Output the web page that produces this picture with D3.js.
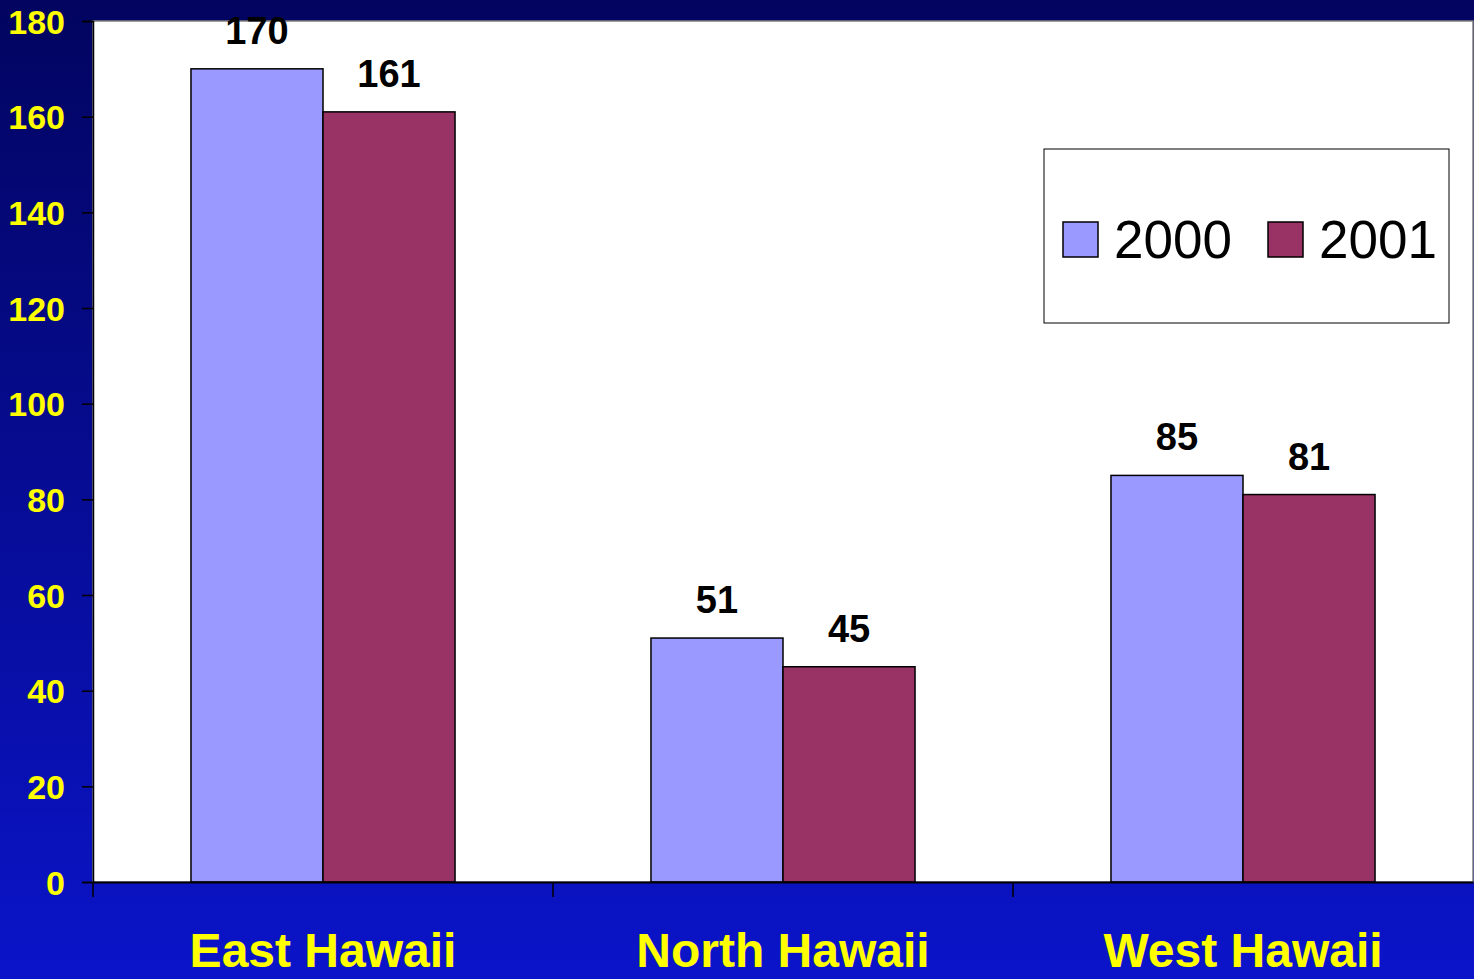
<!DOCTYPE html>
<html>
<head>
<meta charset="utf-8">
<script src="https://cdn.jsdelivr.net/npm/d3@7"></script>
<style>
  html, body { margin: 0; padding: 0; overflow: hidden; }
  svg { display: block; }
</style>
</head>
<body>
<div id="chart"></div>
<script>
var regions = ['East Hawaii', 'North Hawaii', 'West Hawaii'];
var years = ['2000', '2001'];
var values2000 = [170, 51, 85];
var values2001 = [161, 45, 81];
var yTicks = [0, 20, 40, 60, 80, 100, 120, 140, 160, 180];

var width = 1474, height = 979;
var margin = { top: 21, right: 1, bottom: 97, left: 93 };
var colors = { '2000': '#9999FF', '2001': '#993366' };

var svg = d3.select('#chart').append('svg')
	.attr('width', width)
	.attr('height', height);

// background gradient
var grad = svg.append('defs').append('linearGradient')
	.attr('id', 'bg')
	.attr('x1', 0).attr('y1', 0).attr('x2', 0).attr('y2', 1);
grad.append('stop').attr('offset', '0%').attr('stop-color', '#02045f');
grad.append('stop').attr('offset', '100%').attr('stop-color', '#0b14c9');
svg.append('rect')
	.attr('width', width).attr('height', height)
	.attr('fill', 'url(#bg)');

var x = d3.scaleBand()
	.domain(regions)
	.range([margin.left, width - margin.right]);
var inner = d3.scaleBand()
	.domain(years)
	.range([0, x.bandwidth()])
	.paddingOuter(0.742);
var y = d3.scaleLinear()
	.domain([0, 180])
	.range([height - margin.bottom, margin.top]);

// plot area
svg.append('rect')
	.attr('x', margin.left)
	.attr('y', y(180))
	.attr('width', width - margin.right - margin.left)
	.attr('height', y(0) - y(180))
	.attr('fill', '#ffffff')
	.attr('stroke', '#808080')
	.attr('stroke-width', 1.5);

var data = [];
regions.forEach(function(r, i) {
	data.push({ region: r, year: '2000', value: values2000[i] });
	data.push({ region: r, year: '2001', value: values2001[i] });
});

// bars
svg.append('g').selectAll('rect')
	.data(data)
	.enter().append('rect')
	.attr('x', function(d) { return x(d.region) + inner(d.year); })
	.attr('y', function(d) { return y(d.value); })
	.attr('width', inner.bandwidth())
	.attr('height', function(d) { return y(0) - y(d.value); })
	.attr('fill', function(d) { return colors[d.year]; })
	.attr('stroke', '#000')
	.attr('stroke-width', 1.5);

// value labels
svg.append('g').selectAll('text')
	.data(data)
	.enter().append('text')
	.attr('x', function(d) { return x(d.region) + inner(d.year) + inner.bandwidth() / 2; })
	.attr('y', function(d) { return y(d.value) - 25; })
	.attr('text-anchor', 'middle')
	.attr('font-family', 'Liberation Sans, Arial, sans-serif')
	.attr('font-weight', 'bold')
	.attr('font-size', 38)
	.attr('fill', '#000')
	.text(function(d) { return d.value; });

// y axis
var yAxis = svg.append('g')
	.attr('transform', 'translate(' + margin.left + ',0)')
	.call(d3.axisLeft(y).tickValues(yTicks).tickSize(11).tickPadding(17));
yAxis.select('.domain').attr('stroke', '#000').attr('stroke-width', 1.5);
yAxis.selectAll('.tick line').attr('stroke', '#000').attr('stroke-width', 1.5);
yAxis.selectAll('.tick text')
	.attr('fill', '#FFFF00')
	.attr('font-family', 'Liberation Sans, Arial, sans-serif')
	.attr('font-weight', 'bold')
	.attr('font-size', 34)
	.attr('dy', '0.36em');

// x axis
var xAxis = svg.append('g')
	.attr('transform', 'translate(0,' + y(0) + ')')
	.call(d3.axisBottom(x).tickSize(0).tickSizeOuter(0).tickPadding(0));
xAxis.select('.domain').attr('stroke', '#000').attr('stroke-width', 2);
xAxis.selectAll('.tick text')
	.attr('fill', '#FFFF00')
	.attr('font-family', 'Liberation Sans, Arial, sans-serif')
	.attr('font-weight', 'bold')
	.attr('font-size', 48)
	.attr('dy', 0)
	.attr('y', 85);
// category separator ticks
xAxis.selectAll('.sep')
	.data(regions)
	.enter().append('line')
	.attr('class', 'sep')
	.attr('x1', function(d) { return x(d); })
	.attr('x2', function(d) { return x(d); })
	.attr('y1', 0)
	.attr('y2', 15)
	.attr('stroke', '#000')
	.attr('stroke-width', 1.5);

// legend
var legend = svg.append('g').attr('transform', 'translate(1044,149)');
legend.append('rect')
	.attr('width', 405).attr('height', 174)
	.attr('fill', '#fff')
	.attr('stroke', '#000')
	.attr('stroke-width', 1);
var items = legend.selectAll('.item')
	.data(years)
	.enter().append('g')
	.attr('class', 'item')
	.attr('transform', function(d, i) { return 'translate(' + (19 + i * 205) + ',73)'; });
items.append('rect')
	.attr('width', 35).attr('height', 35)
	.attr('fill', function(d) { return colors[d]; })
	.attr('stroke', '#000')
	.attr('stroke-width', 1.5);
items.append('text')
	.attr('x', 51)
	.attr('y', 36)
	.attr('font-family', 'Liberation Sans, Arial, sans-serif')
	.attr('font-size', 53)
	.attr('fill', '#000')
	.text(function(d) { return d; });
</script>
</body>
</html>
